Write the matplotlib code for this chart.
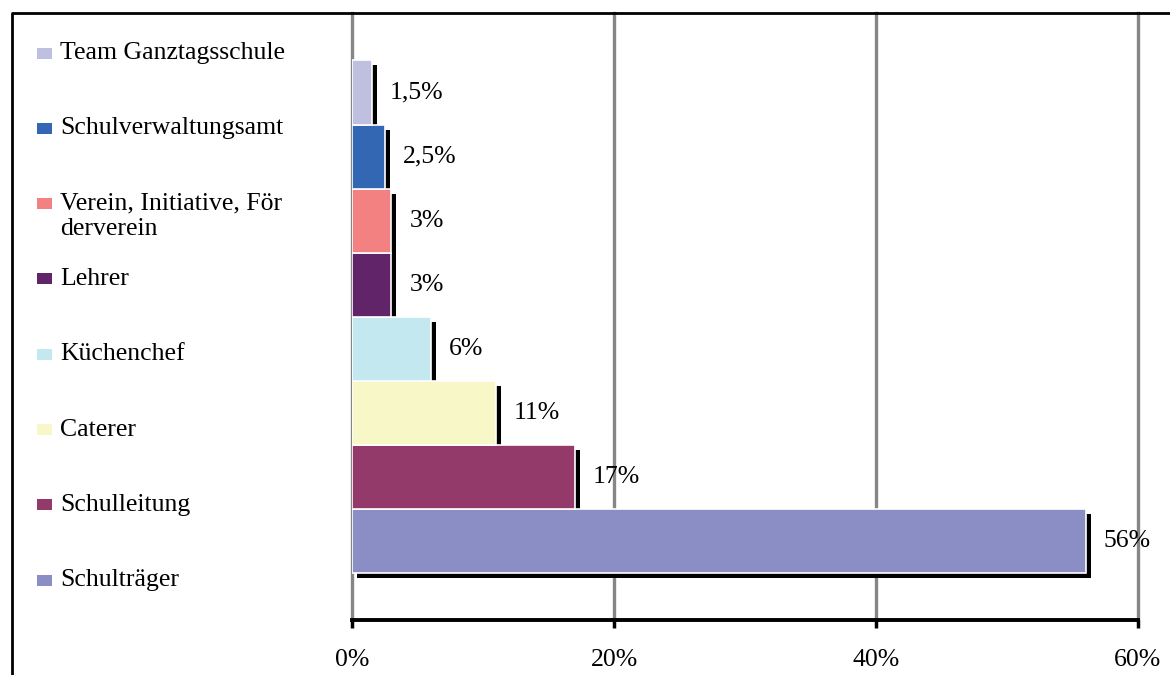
import matplotlib
matplotlib.use("Agg")
import matplotlib.pyplot as plt
from matplotlib.patches import Rectangle
from matplotlib.lines import Line2D
from matplotlib.transforms import offset_copy

# Categories listed from bottom bar to top bar
categories = ["Schulträger", "Schulleitung", "Caterer", "Küchenchef",
              "Lehrer", "Verein, Initiative, För\nderverein",
              "Schulverwaltungsamt", "Team Ganztagsschule"]
values = [56, 17, 11, 6, 3, 3, 2.5, 1.5]
value_labels = ["56%", "17%", "11%", "6%", "3%", "3%", "2,5%", "1,5%"]
colors = ["#8B8EC4", "#943A6B", "#F8F7C8", "#C3E8F0",
          "#612468", "#F38181", "#3366B3", "#BFBFDF"]
xticks = [0, 20, 40, 60]
xtick_labels = ["0%", "20%", "40%", "60%"]

W, H = 1170, 675
fig = plt.figure(figsize=(W / 100, H / 100), dpi=100)
plt.rcParams["font.family"] = ["Liberation Serif", "DejaVu Serif"]
FS = 18.5

ax = fig.add_axes([352 / W, 1 - 620 / H, (1138 - 352) / W, (620 - 13) / H])
ypos = list(range(len(categories)))

# black drop shadows behind the bars
shadow_tr = offset_copy(ax.transData, fig=fig, x=5, y=-5, units="dots")
ax.barh(ypos, values, height=1.0, color="black", edgecolor="none",
        transform=shadow_tr, zorder=2)
ax.barh(ypos, values, height=1.0, color=colors, edgecolor="white",
        linewidth=1.2, zorder=3)

for y, v, lab in zip(ypos, values, value_labels):
    ax.annotate(lab, (v, y), xytext=(13, 0), textcoords="offset points",
                ha="left", va="center", fontsize=FS, color="black", zorder=5)

ax.set_xlim(0, 60)
ax.set_ylim(-1.23, 8.24)
ax.set_xticks(xticks)
ax.set_xticklabels(xtick_labels, fontsize=FS)
ax.set_yticks([])
ax.tick_params(axis="x", direction="out", length=6, width=2.5,
               color="black", pad=15)
ax.grid(axis="x", color="#868686", linewidth=2.4, zorder=1)
for gl in ax.get_xgridlines():
    gl.set_clip_on(False)
ax.set_axisbelow(True)
for s in ["top", "right", "left"]:
    ax.spines[s].set_visible(False)
ax.spines["bottom"].set_linewidth(2.8)
ax.spines["bottom"].set_color("black")
ax.spines["bottom"].set_zorder(4)

# legend drawn down the left side, top entry first
leg_top = 53
leg_step = 75.3
line_gap = 25
for i, (cat, col) in enumerate(zip(categories[::-1], colors[::-1])):
    yc = leg_top + i * leg_step
    fig.patches.append(Rectangle((37 / W, 1 - (yc + 5.5) / H), 15 / W, 11 / H,
                                 transform=fig.transFigure, facecolor=col,
                                 edgecolor="none"))
    for j, line in enumerate(cat.split("\n")):
        fig.text(60 / W, 1 - (yc + j * line_gap) / H, line, fontsize=FS,
                 ha="left", va="center", color="black")

# outer frame (top and left edges)
fig.add_artist(Line2D([12 / W, 12 / W, 1.0], [0.0, 1 - 13 / H, 1 - 13 / H],
                      transform=fig.transFigure, color="black", linewidth=2))

fig.savefig("out.png", dpi=100)
